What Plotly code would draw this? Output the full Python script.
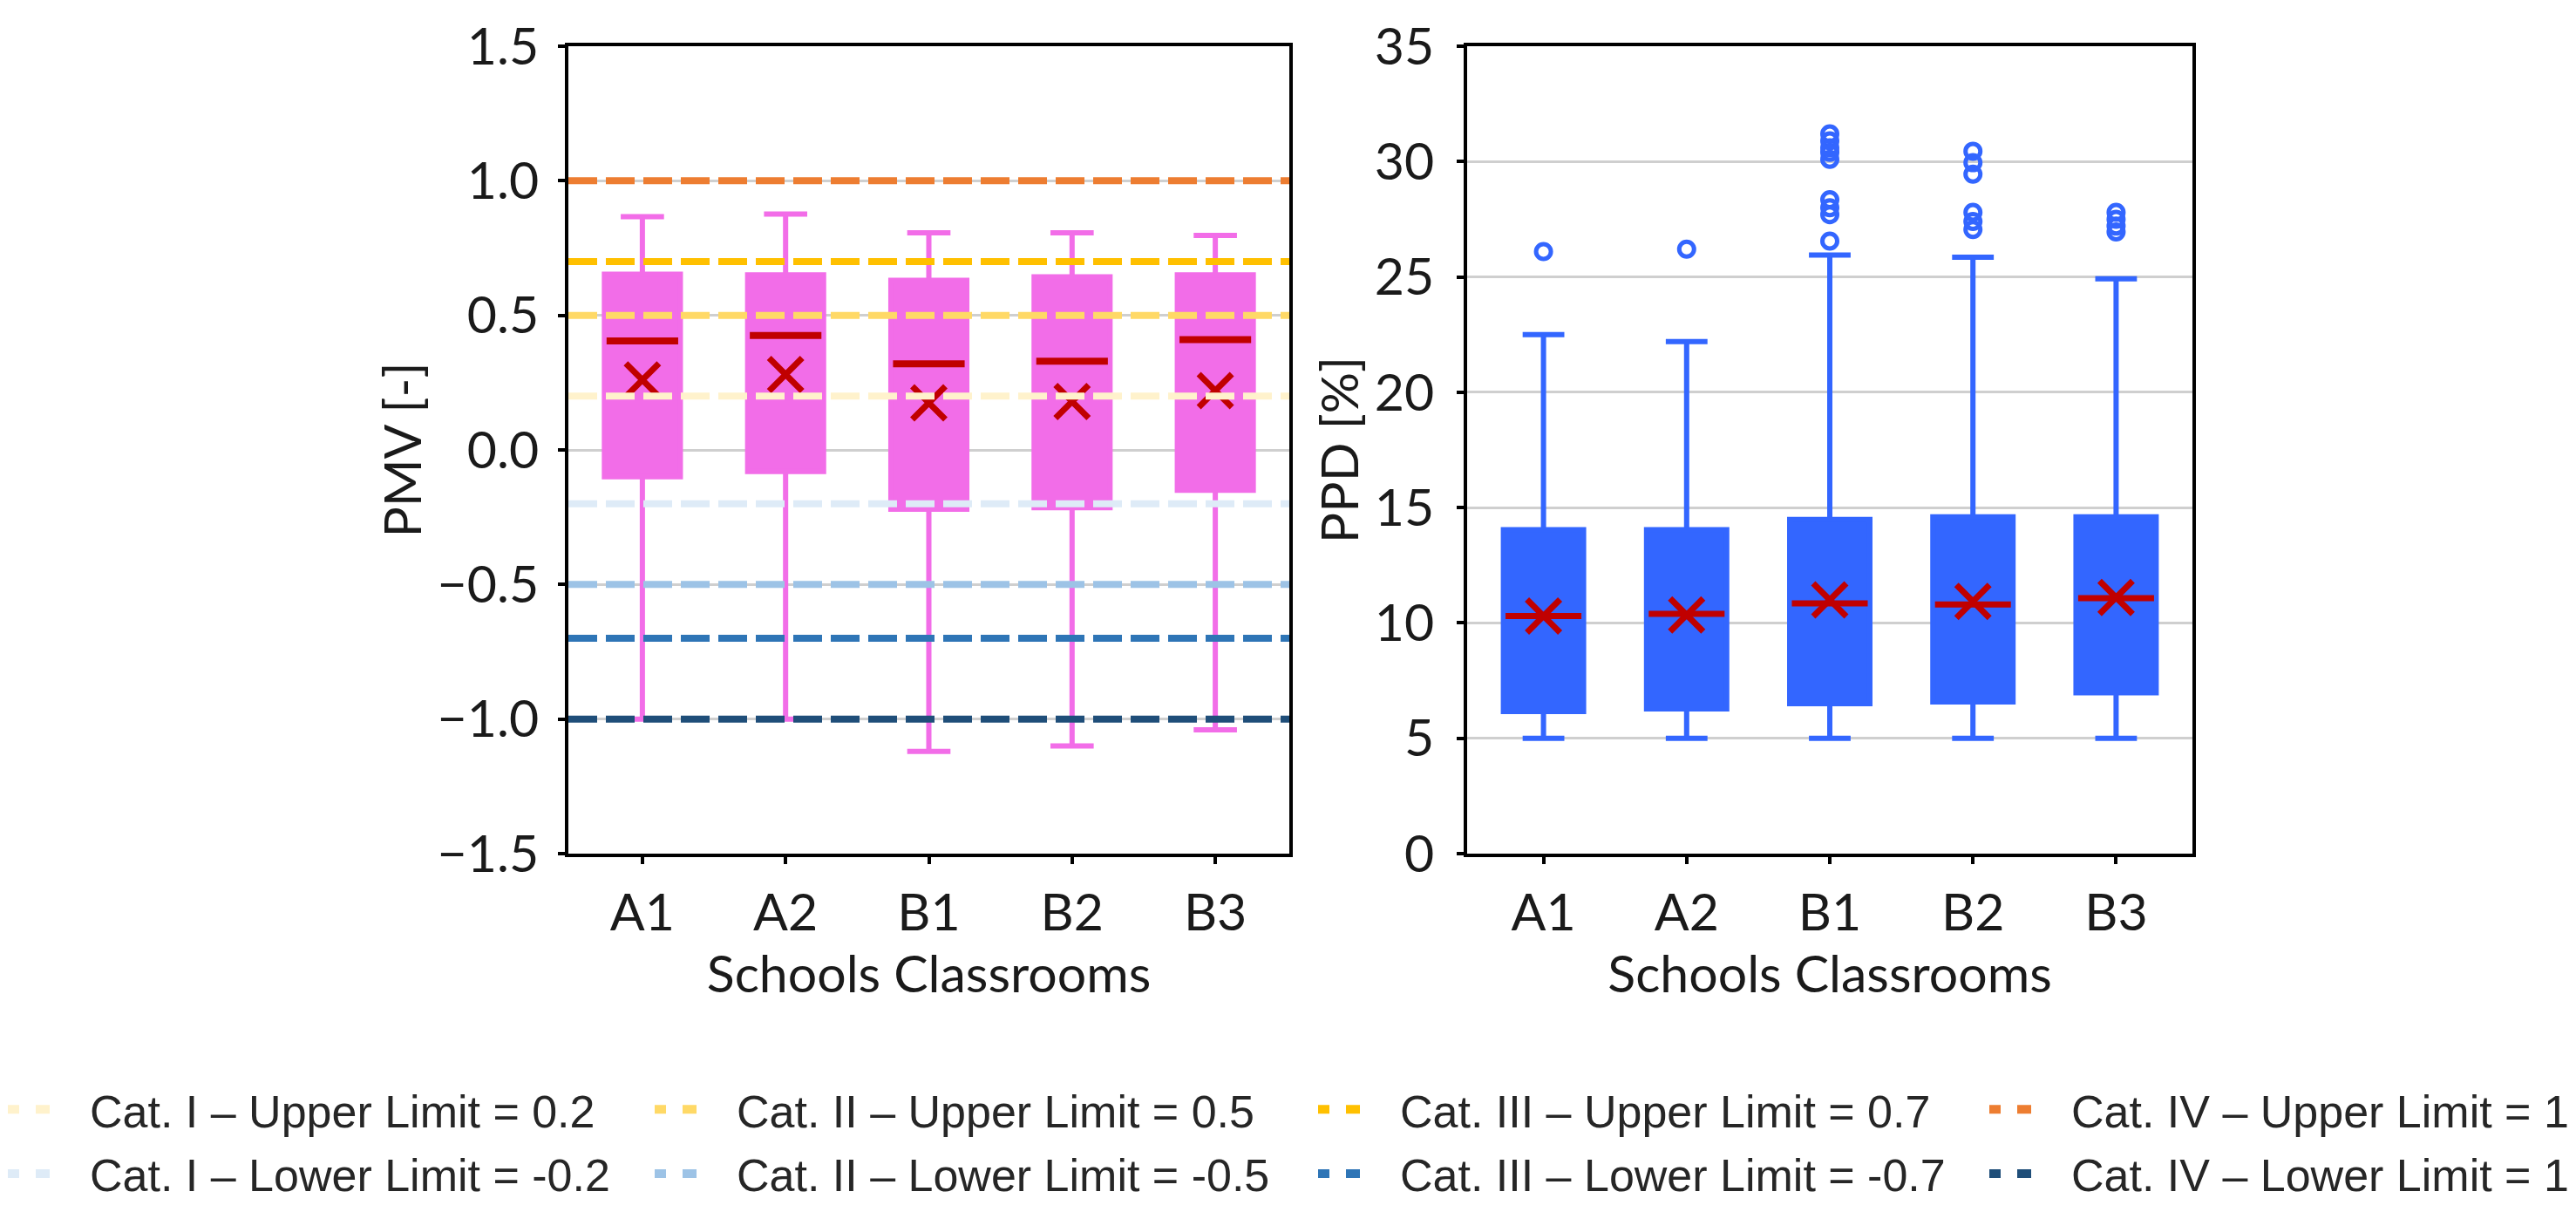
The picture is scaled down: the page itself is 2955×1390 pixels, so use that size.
import plotly.graph_objects as go

# ---- data ----
classrooms = ["A1", "A2", "B1", "B2", "B3"]

# PMV [-] box stats
pmv_low = [-1.0, -1.0, -1.12, -1.10, -1.04]
pmv_q1 = [-0.10, -0.08, -0.22, -0.215, -0.15]
pmv_median = [0.405, 0.425, 0.32, 0.33, 0.41]
pmv_q3 = [0.653, 0.65, 0.63, 0.643, 0.65]
pmv_high = [0.867, 0.876, 0.807, 0.807, 0.797]
pmv_mean = [0.26, 0.28, 0.175, 0.18, 0.22]

# PPD [%] box stats
ppd_low = [5.0, 5.0, 5.0, 5.0, 5.0]
ppd_q1 = [6.16, 6.27, 6.5, 6.58, 6.97]
ppd_median = [10.3, 10.39, 10.85, 10.8, 11.07]
ppd_q3 = [14.04, 14.04, 14.49, 14.6, 14.6]
ppd_high = [22.5, 22.2, 25.95, 25.85, 24.92]
ppd_mean = [10.3, 10.35, 11.0, 10.93, 11.1]
ppd_outliers = [
    [26.1],
    [26.2],
    [26.55, 27.7, 28.0, 28.35, 30.1, 30.4, 30.6, 30.9, 31.2],
    [27.05, 27.4, 27.8, 29.45, 29.95, 30.45],
    [26.95, 27.2, 27.5, 27.8],
]

# comfort category limits (PMV), one legend column per category
limit_names = [
    "Cat. I – Upper Limit = 0.2", "Cat. I – Lower Limit = -0.2",
    "Cat. II – Upper Limit = 0.5", "Cat. II – Lower Limit = -0.5",
    "Cat. III – Upper Limit = 0.7", "Cat. III – Lower Limit = -0.7",
    "Cat. IV – Upper Limit = 1", "Cat. IV – Lower Limit = 1",
]
limit_values = [0.2, -0.2, 0.5, -0.5, 0.7, -0.7, 1.0, -1.0]
limit_colors = ["#FFF2CC", "#DEEBF7", "#FFD966", "#9DC3E6",
                "#FFC000", "#2E75B6", "#ED7D31", "#1F4E79"]

PINK = "#F26DE8"
BLUE = "#3366FF"
RED = "#C00000"
AXIS_FONT = dict(family="Lato, Open Sans, sans-serif", size=59, color="#1a1a1a")

# figure size; margins allow for the 8px page offset
W, H = 2955, 1390
ML, MR, MT, MB = 644, 448, 45, 419
PW, PH = W - ML - MR, H - MT - MB

fig = go.Figure()

# --- left: PMV ---
fig.add_trace(go.Box(x=classrooms, q1=pmv_q1, median=pmv_median, q3=pmv_q3,
                     lowerfence=pmv_low, upperfence=pmv_high, width=0.53,
                     fillcolor=PINK, line=dict(color=PINK, width=6), whiskerwidth=0.57,
                     boxpoints=False, showlegend=False, hoverinfo="skip",
                     xaxis="x", yaxis="y"))
fig.add_trace(go.Box(x=classrooms, q1=pmv_median, median=pmv_median, q3=pmv_median,
                     lowerfence=pmv_median, upperfence=pmv_median, width=0.5,
                     fillcolor="rgba(0,0,0,0)", line=dict(color=RED, width=8), whiskerwidth=0,
                     boxpoints=False, showlegend=False, hoverinfo="skip",
                     xaxis="x", yaxis="y"))
fig.add_trace(go.Scatter(x=classrooms, y=pmv_mean, mode="markers",
                         marker=dict(symbol="x-thin", size=38, line=dict(color=RED, width=7)),
                         showlegend=False, xaxis="x", yaxis="y"))

# --- right: PPD ---
out_x = [c for c, vals in zip(classrooms, ppd_outliers) for v in vals]
out_y = [v for vals in ppd_outliers for v in vals]
fig.add_trace(go.Box(x=classrooms, q1=ppd_q1, median=ppd_median, q3=ppd_q3,
                     lowerfence=ppd_low, upperfence=ppd_high, width=0.56,
                     fillcolor=BLUE, line=dict(color=BLUE, width=6), whiskerwidth=0.52,
                     boxpoints=False, showlegend=False, hoverinfo="skip",
                     xaxis="x2", yaxis="y2"))
fig.add_trace(go.Box(x=classrooms, q1=ppd_median, median=ppd_median, q3=ppd_median,
                     lowerfence=ppd_median, upperfence=ppd_median, width=0.53,
                     fillcolor="rgba(0,0,0,0)", line=dict(color=RED, width=7), whiskerwidth=0,
                     boxpoints=False, showlegend=False, hoverinfo="skip",
                     xaxis="x2", yaxis="y2"))
fig.add_trace(go.Scatter(x=classrooms, y=ppd_mean, mode="markers",
                         marker=dict(symbol="x-thin", size=38, line=dict(color=RED, width=7)),
                         showlegend=False, xaxis="x2", yaxis="y2"))
fig.add_trace(go.Scatter(x=out_x, y=out_y, mode="markers",
                         marker=dict(symbol="circle-open", size=17, color=BLUE,
                                     line=dict(color=BLUE, width=5)),
                         showlegend=False, xaxis="x2", yaxis="y2"))

# limit lines as shapes over the boxes, legend through empty traces
legend_cols_px = [-4, 738, 1499, 2269]
for i, (name, val, col) in enumerate(zip(limit_names, limit_values, limit_colors)):
    fig.add_shape(type="line", xref="x domain", x0=0, x1=1, yref="y", y0=val, y1=val,
                  line=dict(color=col, width=8, dash="33px,10px"), layer="above")
    lg = "legend" if i // 2 == 0 else "legend%d" % (i // 2 + 1)
    fig.add_trace(go.Scatter(x=[None], y=[None], mode="lines", name=name,
                             legend=lg, legendgroup=name,
                             line=dict(color=col, width=10, dash="13px,19px,16px,300px"),
                             xaxis="x", yaxis="y"))

frame = dict(showline=True, mirror=True, linecolor="black", linewidth=4,
             ticks="outside", ticklen=8, tickwidth=4, tickcolor="black",
             tickfont=AXIS_FONT)

legend_base = dict(orientation="v", y=1 - (1224 - MT) / PH, xanchor="left", yanchor="top",
                   itemwidth=89, tracegroupgap=3,
                   font=dict(family="Liberation Sans, Arial, sans-serif", size=52, color="#262626"),
                   bgcolor="rgba(0,0,0,0)")
legends = {}
for k, px in enumerate(legend_cols_px):
    key = "legend" if k == 0 else "legend%d" % (k + 1)
    legends[key] = dict(legend_base, x=(px - ML) / PW)

fig.update_layout(
    width=W, height=H, autosize=False,
    paper_bgcolor="white", plot_bgcolor="white",
    margin=dict(l=ML, r=MR, t=MT, b=MB, autoexpand=False),
    boxmode="overlay",
    xaxis=dict(domain=[0, (1471 - ML) / PW], type="category", showgrid=False,
               ticklabelstandoff=5,
               title=dict(text="Schools Classrooms", font=AXIS_FONT, standoff=17), **frame),
    yaxis=dict(range=[-1.5, 1.5], dtick=0.5, tickformat=".1f", showgrid=True,
               gridcolor="#CFCFCF", gridwidth=3, zeroline=False, ticklabelstandoff=10,
               title=dict(text="PMV [-]", font=AXIS_FONT, standoff=0), **frame),
    xaxis2=dict(domain=[(1675 - ML) / PW, 1], type="category", showgrid=False, anchor="y2",
                ticklabelstandoff=5,
                title=dict(text="Schools Classrooms", font=AXIS_FONT, standoff=17), **frame),
    yaxis2=dict(range=[0, 35], dtick=5, showgrid=True, anchor="x2",
                gridcolor="#CFCFCF", gridwidth=3, zeroline=False, ticklabelstandoff=14,
                title=dict(text="PPD [%]", font=AXIS_FONT, standoff=0), **frame),
    **legends,
)

fig.write_html("out.html")
